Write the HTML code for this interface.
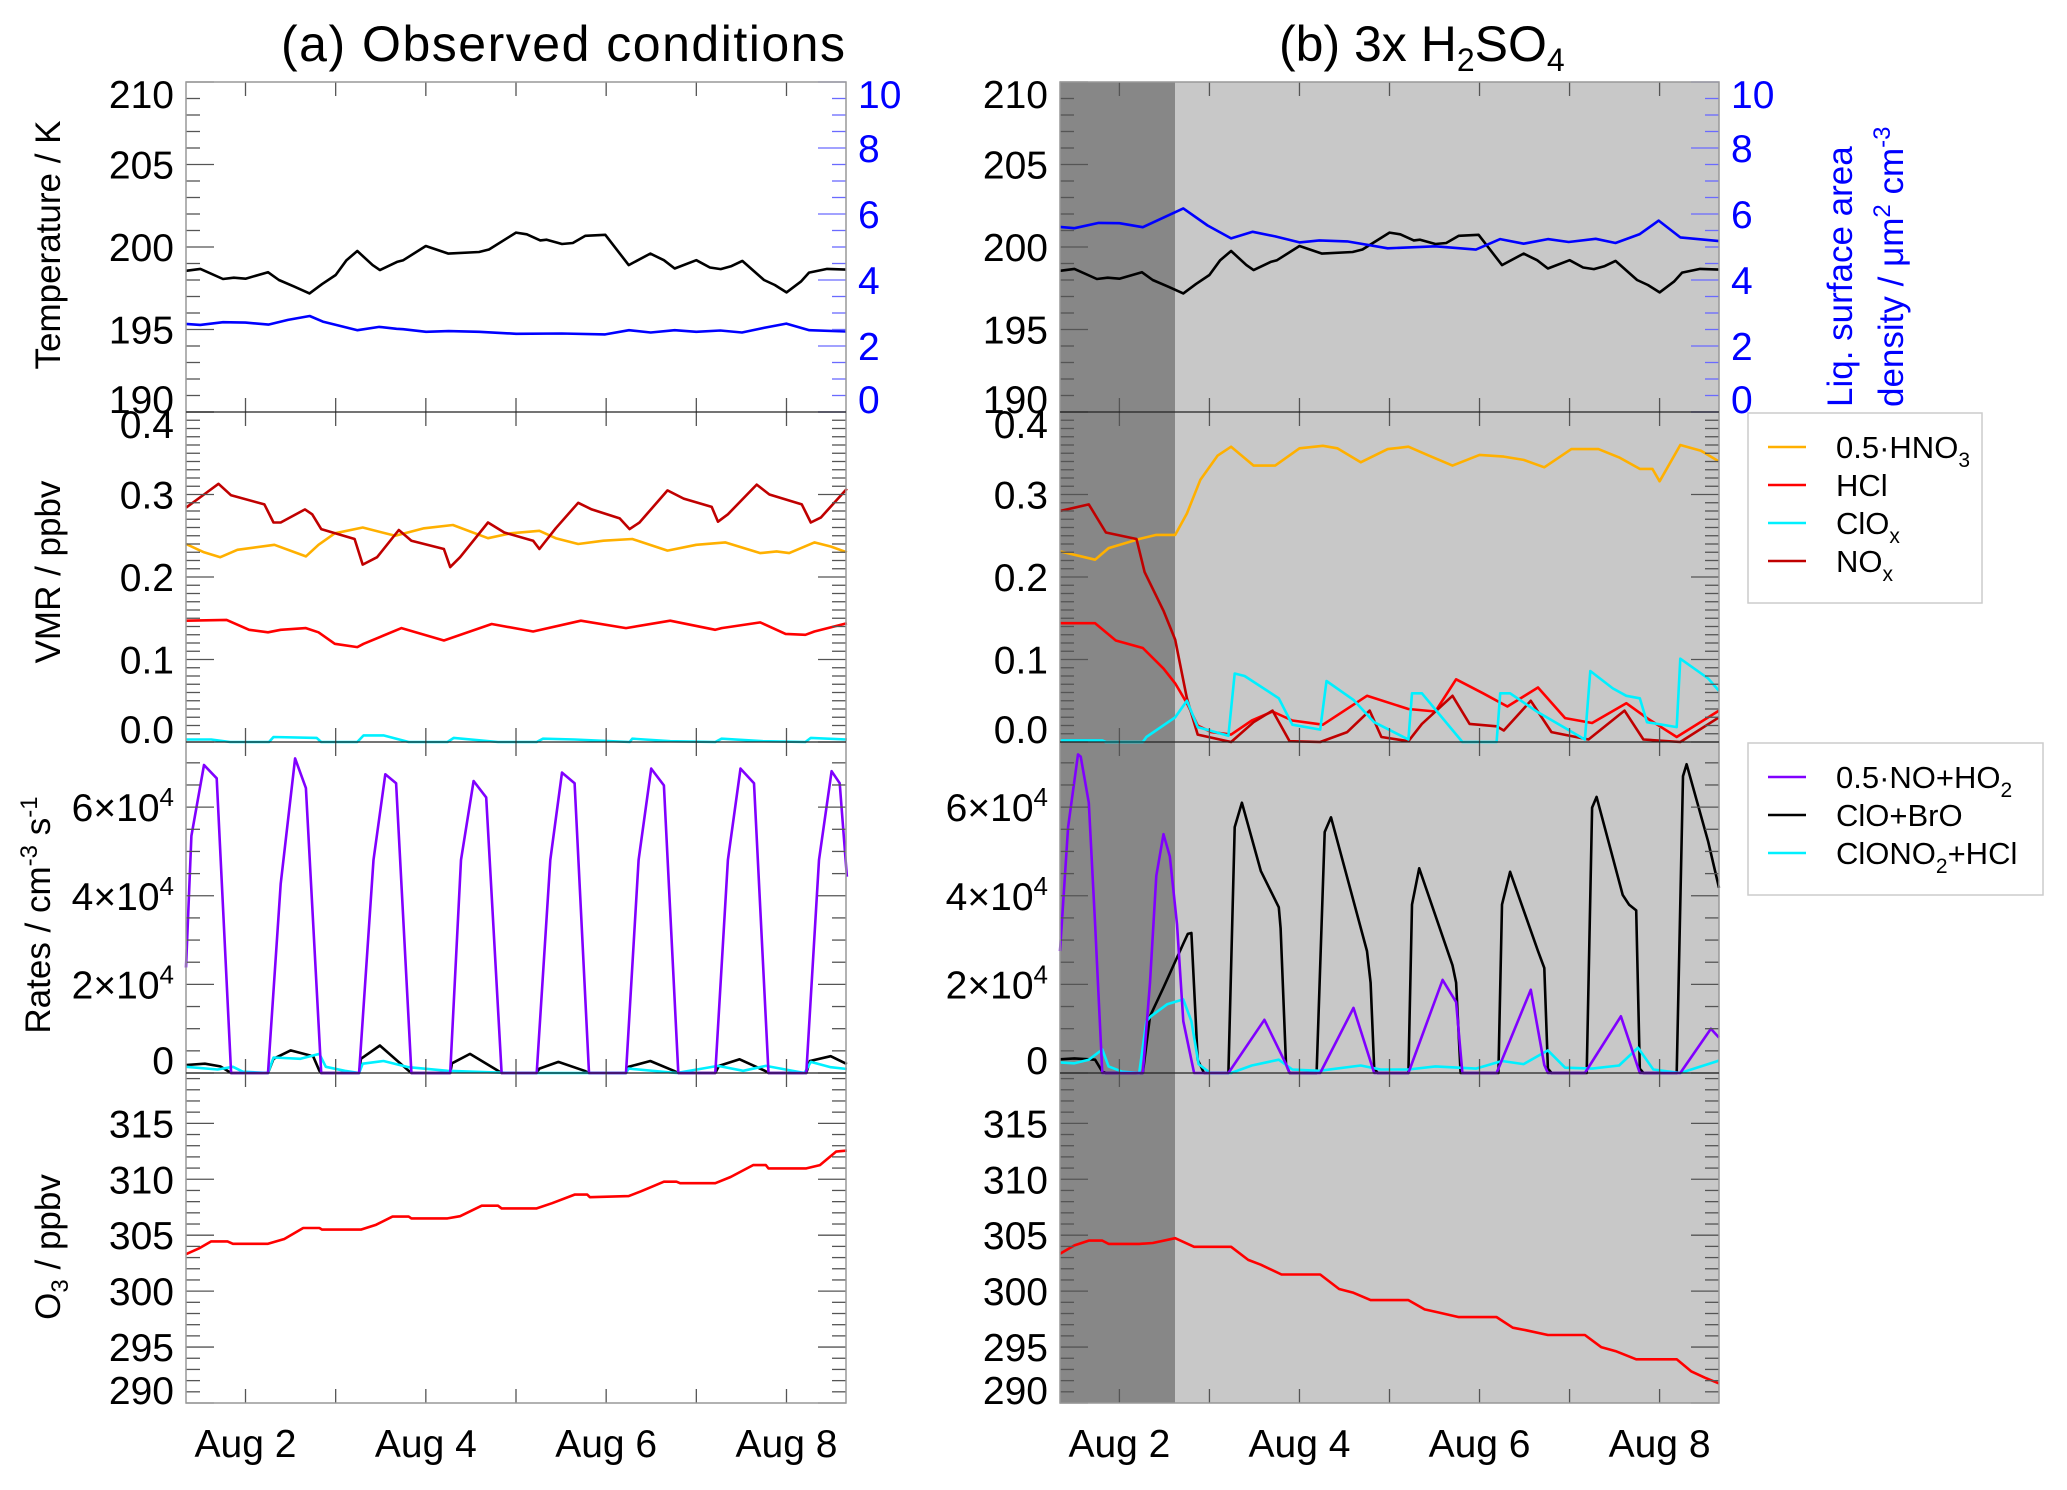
<!DOCTYPE html>
<html><head><meta charset="utf-8"><title>Observed conditions vs 3x H2SO4</title>
<style>
html,body{margin:0;padding:0;background:#fff;}
svg{display:block;font-family:"Liberation Sans",Arial,sans-serif;}
</style></head>
<body>
<svg id="chart" xmlns="http://www.w3.org/2000/svg" width="2067" height="1490" viewBox="0 0 2067 1490">
<rect x="0" y="0" width="2067" height="1490" fill="#fff"/>
<g id="shade"></g>
<g id="series"></g>
<g id="axes"></g>
<text x="281" y="61" font-size="50" textLength="564">(a) Observed conditions</text>
<text x="1279" y="61" font-size="50">(b) 3x H<tspan font-size="32" dy="10">2</tspan><tspan dy="-10">SO</tspan><tspan font-size="32" dy="10">4</tspan></text>
<g>
<rect x="1748" y="413" width="234" height="190" fill="#fff" stroke="#ccc" stroke-width="1.5"/>
<line x1="1768" y1="447" x2="1806" y2="447" stroke="#ffb000" stroke-width="2.5"/>
<text x="1836" y="458" font-size="31">0.5·HNO<tspan font-size="21" dy="9">3</tspan></text>
<line x1="1768" y1="485" x2="1806" y2="485" stroke="#ff0000" stroke-width="2.5"/>
<text x="1836" y="496" font-size="31">HCl</text>
<line x1="1768" y1="523" x2="1806" y2="523" stroke="#00f0ff" stroke-width="2.5"/>
<text x="1836" y="534" font-size="31">ClO<tspan font-size="21" dy="9">x</tspan></text>
<line x1="1768" y1="561" x2="1806" y2="561" stroke="#c00000" stroke-width="2.5"/>
<text x="1836" y="572" font-size="31">NO<tspan font-size="21" dy="9">x</tspan></text>
</g>
<g>
<rect x="1748" y="743" width="295" height="152" fill="#fff" stroke="#ccc" stroke-width="1.5"/>
<line x1="1768" y1="777" x2="1806" y2="777" stroke="#8000ff" stroke-width="2.5"/>
<text x="1836" y="788" font-size="31">0.5·NO+HO<tspan font-size="21" dy="9">2</tspan></text>
<line x1="1768" y1="815" x2="1806" y2="815" stroke="#000" stroke-width="2.5"/>
<text x="1836" y="826" font-size="31">ClO+BrO</text>
<line x1="1768" y1="853" x2="1806" y2="853" stroke="#00f0ff" stroke-width="2.5"/>
<text x="1836" y="864" font-size="31">ClONO<tspan font-size="21" dy="9">2</tspan><tspan dy="-9">+HCl</tspan></text>
</g>
<text transform="translate(60,245) rotate(-90)" text-anchor="middle" font-size="35">Temperature / K</text>
<text transform="translate(60,572) rotate(-90)" text-anchor="middle" font-size="35">VMR / ppbv</text>
<text transform="translate(50,915) rotate(-90)" text-anchor="middle" font-size="35">Rates / cm<tspan font-size="24" dy="-13">-3</tspan><tspan dy="13"> s</tspan><tspan font-size="24" dy="-13">-1</tspan></text>
<text transform="translate(60,1247) rotate(-90)" text-anchor="middle" font-size="35">O<tspan font-size="24" dy="8">3</tspan><tspan dy="-8"> / ppbv</tspan></text>
<text transform="translate(1852,407) rotate(-90)" font-size="35" fill="#0000ff">Liq. surface area</text>
<text transform="translate(1903,407) rotate(-90)" font-size="35" fill="#0000ff">density / μm<tspan font-size="24" dy="-13">2</tspan><tspan dy="13"> cm</tspan><tspan font-size="24" dy="-13">-3</tspan></text>
</svg>
<script>
// ---------- data ----------
const tDays = [1.34,1.50,1.75,1.87,2.0,2.25,2.37,2.54,2.71,2.85,3.0,3.12,3.24,3.41,3.49,3.68,3.75,4.0,4.25,4.59,4.7,5.0,5.12,5.27,5.34,5.51,5.63,5.77,5.99,6.25,6.49,6.64,6.76,7.0,7.15,7.27,7.39,7.51,7.75,7.87,8.0,8.16,8.25,8.45,8.66];
const tempK = [198.56,198.67,198.06,198.14,198.08,198.47,198.0,197.6,197.19,197.75,198.3,199.2,199.76,198.9,198.6,199.1,199.2,200.06,199.6,199.7,199.85,200.87,200.77,200.4,200.44,200.18,200.24,200.68,200.74,198.9,199.6,199.2,198.7,199.2,198.76,198.66,198.84,199.16,198.0,197.7,197.25,197.9,198.45,198.67,198.63];
const sadDaysA = [1.339,1.498,1.751,1.999,2.254,2.471,2.712,2.857,2.991,3.242,3.483,3.676,3.748,4.003,4.254,4.591,5.001,5.507,5.989,6.253,6.494,6.76,7.0,7.266,7.507,7.748,7.998,8.253,8.663];
const sadA = [2.67,2.64,2.72,2.71,2.65,2.79,2.91,2.74,2.65,2.48,2.58,2.52,2.51,2.43,2.45,2.43,2.37,2.38,2.35,2.48,2.41,2.48,2.43,2.47,2.41,2.55,2.68,2.48,2.44];
const sadDaysB = [1.34,1.50,1.77,2.0,2.26,2.71,2.98,3.24,3.48,3.73,4.0,4.22,4.53,4.98,5.51,5.96,6.23,6.49,6.76,6.99,7.29,7.51,7.78,7.99,8.23,8.66];
const sadB = [5.61,5.57,5.73,5.72,5.6,6.17,5.65,5.26,5.46,5.32,5.14,5.2,5.17,4.96,5.02,4.92,5.24,5.1,5.24,5.15,5.25,5.12,5.39,5.8,5.29,5.18];

const noxDaysA = [1.34,1.54,1.70,1.84,2.21,2.31,2.39,2.66,2.74,2.84,3.21,3.30,3.46,3.70,3.84,4.20,4.27,4.38,4.69,4.87,5.19,5.26,5.44,5.69,5.84,6.15,6.26,6.37,6.68,6.86,7.17,7.24,7.35,7.67,7.81,8.17,8.27,8.38,8.67];
const noxA = [.284,.300,.313,.299,.288,.266,.266,.282,.276,.258,.246,.215,.224,.257,.244,.234,.212,.224,.266,.254,.244,.234,.259,.290,.282,.271,.258,.266,.305,.295,.285,.267,.276,.312,.300,.288,.266,.272,.307];
const hno3DaysA = [1.34,1.54,1.72,1.91,2.32,2.67,2.81,2.99,3.30,3.66,3.98,4.30,4.69,4.94,5.26,5.44,5.69,5.97,6.29,6.68,7.00,7.32,7.71,7.89,8.03,8.31,8.49,8.67];
const hno3A = [.240,.230,.224,.233,.239,.225,.239,.253,.260,.250,.259,.263,.247,.253,.256,.247,.240,.244,.246,.232,.239,.242,.229,.231,.229,.242,.237,.230];
const hclDaysA = [1.34,1.79,2.04,2.25,2.39,2.67,2.81,2.99,3.24,3.31,3.73,4.20,4.73,5.19,5.72,6.22,6.71,7.21,7.28,7.71,7.99,8.21,8.31,8.67];
const hclA = [.147,.148,.136,.133,.136,.138,.133,.119,.115,.119,.138,.123,.143,.134,.147,.138,.147,.136,.138,.145,.131,.130,.134,.144];
const cloxDaysA = [1.34,1.62,1.83,2.26,2.31,2.79,2.84,3.24,3.31,3.53,3.81,4.24,4.31,4.80,5.23,5.30,5.65,6.26,6.29,6.71,7.21,7.28,7.74,8.21,8.27,8.67];
const cloxA = [.003,.003,0,0,.006,.005,0,0,.008,.008,0,0,.005,0,0,.004,.003,0,.004,.001,0,.004,.001,0,.005,.003];

const hno3DaysB = [1.34,1.73,1.88,2.22,2.41,2.62,2.75,2.90,3.09,3.24,3.49,3.73,4.0,4.26,4.42,4.68,4.98,5.21,5.44,5.70,6.0,6.27,6.49,6.72,7.02,7.32,7.55,7.78,7.92,8.0,8.23,8.46,8.66];
const hno3B = [.231,.221,.235,.246,.251,.251,.277,.318,.347,.358,.335,.335,.356,.359,.356,.339,.355,.358,.347,.335,.348,.346,.342,.333,.355,.355,.345,.331,.331,.316,.360,.353,.340];
const hclDaysB = [1.34,1.73,1.96,2.26,2.49,2.62,2.75,2.87,3.02,3.24,3.47,3.70,3.92,4.26,4.75,5.21,5.51,5.74,6.04,6.31,6.65,6.95,7.25,7.63,7.86,8.19,8.66];
const hclB = [.144,.144,.123,.114,.089,.071,.047,.020,.012,.009,.026,.037,.026,.021,.056,.040,.037,.076,.059,.043,.066,.029,.023,.047,.029,.006,.038];
const noxDaysB = [1.34,1.66,1.85,2.19,2.28,2.49,2.62,2.75,2.87,3.24,3.49,3.70,3.89,4.23,4.53,4.78,4.91,5.21,5.36,5.70,5.89,6.19,6.27,6.57,6.80,7.21,7.61,7.82,8.23,8.66];
const noxB = [.280,.288,.254,.246,.206,.159,.124,.053,.009,0,.024,.038,.001,0,.012,.038,.006,.001,.022,.056,.022,.019,.014,.050,.012,.003,.038,.003,0,.030];
const cloxDaysB = [1.34,1.81,1.85,2.26,2.30,2.62,2.75,2.87,3.21,3.28,3.39,3.77,3.92,4.23,4.30,4.60,4.83,5.21,5.25,5.36,5.81,6.19,6.23,6.34,6.65,7.17,7.23,7.48,7.63,7.78,7.86,8.19,8.23,8.54,8.66];
const cloxB = [.002,.002,0,0,.006,.030,.050,.018,.0075,.083,.080,.053,.021,.015,.074,.051,.024,.003,.059,.059,0,0,.059,.059,.036,.003,.086,.065,.056,.053,.024,.018,.101,.077,.062];

// rates in units of 1e4 cm-3 s-1
const noDaysA = [1.34,1.40,1.54,1.68,1.84,2.25,2.39,2.55,2.67,2.84,3.26,3.42,3.55,3.67,3.84,4.27,4.39,4.53,4.67,4.84,5.23,5.38,5.51,5.65,5.81,6.22,6.36,6.50,6.64,6.80,7.21,7.35,7.49,7.64,7.80,8.22,8.36,8.50,8.59,8.67];
const noA = [2.38,5.35,6.95,6.65,0,0,4.27,7.10,6.43,0,0,4.81,6.74,6.54,0,0,4.81,6.59,6.22,0,0,4.81,6.78,6.54,0,0,4.81,6.87,6.49,0,0,4.81,6.87,6.54,0,0,4.81,6.81,6.54,4.43];
const cloDaysA = [1.34,1.55,1.72,1.84,2.25,2.31,2.50,2.75,2.82,2.84,3.26,3.28,3.49,3.81,3.84,4.27,4.29,4.49,4.80,4.84,5.23,5.26,5.47,5.76,5.81,6.22,6.25,6.49,6.75,6.80,7.21,7.25,7.48,7.76,7.80,8.22,8.26,8.49,8.67];
const cloA = [.18,.21,.15,0,0,.32,.51,.38,.05,0,0,.32,.62,.05,0,0,.22,.43,.05,0,0,.1,.25,.05,0,0,.14,.27,.05,0,0,.16,.31,.05,0,0,.27,.38,.2];
const hetDaysA = [1.34,1.69,1.86,1.97,2.25,2.31,2.61,2.82,2.89,3.10,3.26,3.30,3.53,3.81,4.24,4.94,6.22,6.25,6.78,7.24,7.52,7.77,8.20,8.27,8.49,8.67];
const hetA = [.14,.08,.14,.03,0,.35,.32,.43,.14,.05,0,.21,.27,.13,.05,0,0,.1,0,.16,.05,.16,0,.25,.13,.09];

const noDaysB = [1.34,1.43,1.54,1.57,1.66,1.73,1.81,2.26,2.34,2.41,2.49,2.56,2.64,2.71,2.83,3.21,3.61,3.85,3.89,4.23,4.60,4.83,5.21,5.59,5.74,5.81,6.19,6.57,6.72,6.76,7.17,7.57,7.78,8.23,8.57,8.66];
const noB = [2.75,5.55,7.19,7.14,6.10,3.36,0,0,2.04,4.45,5.39,4.89,3.36,1.17,0,0,1.2,0.2,0,0,1.47,0,0,2.10,1.6,0,0,1.88,0.18,0,0,1.28,0,0,1.0,0.8];
const cloDaysB = [1.34,1.50,1.73,1.81,1.85,2.26,2.34,2.49,2.71,2.76,2.80,2.87,2.94,3.21,3.28,3.36,3.57,3.77,3.79,3.85,3.89,4.19,4.28,4.35,4.75,4.79,4.83,4.87,5.21,5.25,5.33,5.70,5.74,5.79,6.21,6.25,6.34,6.65,6.72,6.76,6.80,7.19,7.25,7.30,7.59,7.66,7.74,7.78,7.82,8.19,8.26,8.30,8.54,8.66];
const cloB = [.31,.33,.3,.03,0,0,1.28,1.93,2.92,3.14,3.16,0.3,0,0,5.55,6.10,4.56,3.74,3.27,0.2,0,0,5.44,5.77,2.75,2.04,0.1,0,0,3.8,4.62,2.43,2.04,0,0,3.8,4.54,2.75,2.37,0.1,0,0,5.99,6.23,4.02,3.8,3.67,0.1,0,0,6.70,6.97,5.22,4.18];
const hetDaysB = [1.34,1.50,1.66,1.81,1.88,2.03,2.22,2.30,2.35,2.53,2.71,2.80,2.88,3.01,3.24,3.47,3.77,3.92,4.22,4.68,4.90,5.21,5.51,5.96,6.25,6.49,6.76,6.95,7.25,7.55,7.76,7.93,8.23,8.66];
const hetB = [.24,.22,.3,.53,.15,.03,0,1.17,1.28,1.55,1.66,1.17,0.2,0,0,.17,.3,.08,.05,.17,.08,.08,.15,.1,.27,.2,.51,.12,.1,.17,.57,.08,0,.28];

const o3DaysA = [1.34,1.48,1.62,1.80,1.86,2.25,2.43,2.64,2.82,2.85,3.28,3.45,3.63,3.81,3.84,4.24,4.38,4.62,4.80,4.84,5.23,5.40,5.65,5.79,5.82,6.25,6.39,6.64,6.78,6.82,7.21,7.38,7.63,7.77,7.80,8.22,8.37,8.55,8.67];
const o3A = [303.3,303.8,304.45,304.45,304.23,304.23,304.66,305.64,305.64,305.5,305.5,305.94,306.66,306.66,306.5,306.5,306.7,307.64,307.64,307.4,307.4,307.86,308.63,308.63,308.4,308.5,308.93,309.78,309.78,309.65,309.65,310.2,311.27,311.27,310.97,310.97,311.27,312.47,312.56];
const o3DaysB = [1.34,1.50,1.66,1.81,1.88,2.22,2.37,2.62,2.83,3.24,3.43,3.57,3.80,4.23,4.44,4.60,4.79,5.21,5.39,5.54,5.77,6.19,6.37,6.52,6.76,7.17,7.35,7.51,7.74,8.19,8.35,8.50,8.66];
const o3B = [303.35,304.09,304.52,304.52,304.22,304.22,304.3,304.73,303.96,303.96,302.79,302.36,301.49,301.49,300.19,299.85,299.2,299.2,298.37,298.1,297.68,297.68,296.73,296.5,296.08,296.08,295.0,294.64,293.91,293.91,292.83,292.27,291.75];

const darkEndDay = 2.62;
const xTickLabels = ['Aug 2','Aug 4','Aug 6','Aug 8'];
const xTickDays = [2,4,6,8];
const tempTicks = [190,195,200,205,210];
const sadTicks = [0,2,4,6,8,10];
const vmrTicks = [0,0.1,0.2,0.3,0.4];
const rateTicks = [0,2,4,6];
const o3Ticks = [290,295,300,305,310,315];

// ---------- layout ----------
const NS = 'http://www.w3.org/2000/svg';
const XMIN = 1.34, XMAX = 8.66;
const cols = [{x0:186, x1:846, id:'a'}, {x0:1060, x1:1719, id:'b'}];
const panels = [
  {key:'temp', top:82, bot:412, min:190, max:210, major:5, minor:1, ticks:tempTicks, fmt:v=>String(v)},
  {key:'vmr', top:412, bot:742, min:0, max:0.4, major:0.1, minor:0.01, ticks:vmrTicks, fmt:v=>v.toFixed(1)},
  {key:'rates', top:742, bot:1073, min:0, max:7.47, major:2, minor:0.5, ticks:rateTicks, fmt:null},
  {key:'o3', top:1073, bot:1403, min:290, max:319.5, major:5, minor:1, ticks:o3Ticks, fmt:v=>String(v)}
];
function xs(col, d){ return col.x0 + (d - XMIN) / (XMAX - XMIN) * (col.x1 - col.x0); }
function ys(p, v){ return p.bot - (v - p.min) / (p.max - p.min) * (p.bot - p.top); }
function ysad(v){ return 412 - v / 10 * 330; }

const shadeG = document.getElementById('shade');
const seriesG = document.getElementById('series');
const axesG = document.getElementById('axes');

function mk(tag, attrs, parent){
  const e = document.createElementNS(NS, tag);
  for (const k in attrs) e.setAttribute(k, attrs[k]);
  parent.appendChild(e);
  return e;
}

// shading in panel b
const colB = cols[1];
const darkRect = mk('rect', {x:colB.x0, y:82, width:xs(colB, darkEndDay)-colB.x0, height:1321, fill:'#878787'}, shadeG);


const lightRect = mk('rect', {x:xs(colB, darkEndDay), y:82, width:colB.x1-xs(colB, darkEndDay), height:1321, fill:'#c8c8c8'}, shadeG);



function line(col, days, vals, yfun, color, name){
  let d = '';
  for (let i = 0; i < days.length; i++){
    d += (i ? 'L' : 'M') + xs(col, days[i]).toFixed(1) + ',' + yfun(vals[i]).toFixed(1);
  }
  const p = mk('path', {d:d, fill:'none', stroke:color, 'stroke-width':2.6, 'stroke-linejoin':'round'}, seriesG);
  
  
}
const [PT, PV, PR, PO] = panels;
const yT = v => ys(PT, v), yV = v => ys(PV, v), yR = v => ys(PR, v), yO = v => ys(PO, v);
// panel a
line(cols[0], tDays, tempK, yT, '#000', 'temperature-line-a');
line(cols[0], sadDaysA, sadA, ysad, '#0000ff', 'surface-area-line-a');
line(cols[0], hno3DaysA, hno3A, yV, '#ffb000', 'hno3-line-a');
line(cols[0], hclDaysA, hclA, yV, '#ff0000', 'hcl-line-a');
line(cols[0], noxDaysA, noxA, yV, '#c00000', 'nox-line-a');
line(cols[0], cloxDaysA, cloxA, yV, '#00f0ff', 'clox-line-a');
line(cols[0], cloDaysA, cloA, yR, '#000', 'clo-bro-line-a');
line(cols[0], hetDaysA, hetA, yR, '#00f0ff', 'clono2-hcl-line-a');
line(cols[0], noDaysA, noA, yR, '#8000ff', 'no-ho2-line-a');
line(cols[0], o3DaysA, o3A, yO, '#ff0000', 'o3-line-a');
// panel b
line(cols[1], tDays, tempK, yT, '#000', 'temperature-line-b');
line(cols[1], sadDaysB, sadB, ysad, '#0000ff', 'surface-area-line-b');
line(cols[1], hno3DaysB, hno3B, yV, '#ffb000', 'hno3-line-b');
line(cols[1], hclDaysB, hclB, yV, '#ff0000', 'hcl-line-b');
line(cols[1], noxDaysB, noxB, yV, '#c00000', 'nox-line-b');
line(cols[1], cloxDaysB, cloxB, yV, '#00f0ff', 'clox-line-b');
line(cols[1], cloDaysB, cloB, yR, '#000', 'clo-bro-line-b');
line(cols[1], hetDaysB, hetB, yR, '#00f0ff', 'clono2-hcl-line-b');
line(cols[1], noDaysB, noB, yR, '#8000ff', 'no-ho2-line-b');
line(cols[1], o3DaysB, o3B, yO, '#ff0000', 'o3-line-b');

// axes
const TICK = '#555';
cols.forEach(col => {
  panels.forEach(p => {
    // y ticks
    const n = Math.round((p.max - p.min) / p.minor);
    for (let i = 0; i <= n; i++){
      const v = p.min + i * p.minor;
      const isMaj = Math.abs(v / p.major - Math.round(v / p.major)) < 1e-6;
      const y = ys(p, v);
      if (y < p.top - 0.5) continue;
      const len = isMaj ? 28 : 14;
      const t1 = mk('line', {x1:col.x0, y1:y, x2:col.x0+len, y2:y, stroke:TICK, 'stroke-width':1.3}, axesG);
      
      
      if (p.key !== 'temp'){
        const t2 = mk('line', {x1:col.x1, y1:y, x2:col.x1-len, y2:y, stroke:TICK, 'stroke-width':1.3}, axesG);
        
        
      }
    }
    // x ticks
    for (let d = 2; d <= 8; d++){
      const x = xs(col, d);
      const a = mk('line', {x1:x, y1:p.top, x2:x, y2:p.top+14, stroke:TICK, 'stroke-width':1.3}, axesG);
      
      
      const b = mk('line', {x1:x, y1:p.bot, x2:x, y2:p.bot-14, stroke:TICK, 'stroke-width':1.3}, axesG);
      
      
    }
    // y labels
    p.ticks.forEach(v => {
      let y = ys(p, v);
      if (Math.abs(y - p.top) < 2) y += 12;
      if (Math.abs(y - p.bot) < 2) y -= 13;
      const t = mk('text', {x:col.x0-12, y:y+14, 'text-anchor':'end', 'font-size':39}, axesG);
      
      
      if (p.key === 'rates' && v !== 0){
        t.appendChild(document.createTextNode(v + '×10'));
        const s = mk('tspan', {'font-size':26, dy:-15}, t);
        s.textContent = '4';
      } else {
        t.textContent = p.fmt ? p.fmt(v) : String(v);
      }
    });
  });
  // right blue axis in temperature panel
  for (let v = 0; v <= 10.001; v += 0.5){
    const isMaj = Math.abs(v / 2 - Math.round(v / 2)) < 1e-6;
    const y = ysad(v);
    const t = mk('line', {x1:col.x1, y1:y, x2:col.x1-(isMaj?28:14), y2:y, stroke:'#6a6aff', 'stroke-width':1.3}, axesG);
    
    
  }
  sadTicks.forEach(v => {
    let y = ysad(v);
    if (v === 10) y += 12;
    if (v === 0) y -= 13;
    const t = mk('text', {x:col.x1+12, y:y+14, 'font-size':39, fill:'#0000ff'}, axesG);
    
    
    t.textContent = String(v);
  });
  // frame
  const fr = mk('rect', {x:col.x0, y:82, width:col.x1-col.x0, height:1321, fill:'none', stroke:'#999', 'stroke-width':1.5}, axesG);
  
  
  [412, 742, 1073].forEach(y => {
    const s = mk('line', {x1:col.x0, y1:y, x2:col.x1, y2:y, stroke:'#222', 'stroke-width':1.3}, axesG);
    
    
  });
  // x labels
  xTickDays.forEach((d, i) => {
    const t = mk('text', {x:xs(col, d), y:1457, 'text-anchor':'middle', 'font-size':39}, axesG);
    
    
    t.textContent = xTickLabels[i];
  });
});
</script>
</body></html>
